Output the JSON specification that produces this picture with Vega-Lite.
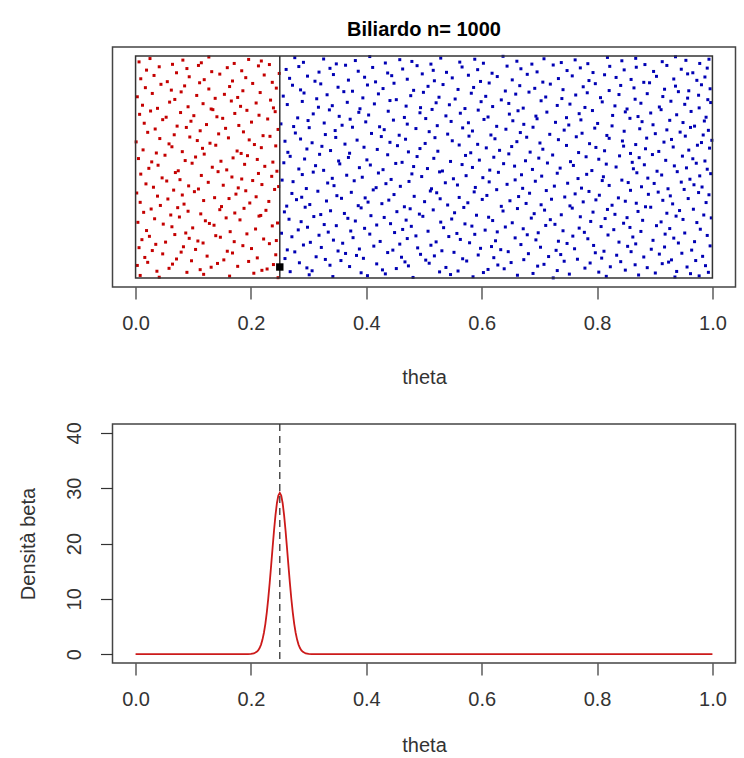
{
  "$schema": "https://vega.github.io/schema/vega-lite/v6.json",
  "background": "white",
  "padding": {"left": 17.5, "top": 19, "right": 0, "bottom": 0},
  "spacing": 32,
  "config": {
    "font": "Liberation Sans",
    "view": {"stroke": "#444444", "strokeWidth": 1.5},
    "axis": {"grid": false, "domain": false, "tickSize": 12, "tickColor": "#333333", "tickWidth": 1.2, "labelFont": "Liberation Sans", "labelFontSize": 20, "labelColor": "#333333", "titleFont": "Liberation Sans", "titleFontSize": 20, "titleFontWeight": "normal", "titleColor": "#333333", "labelFlush": false}
  },
  "vconcat": [
    {
      "width": 623,
      "height": 240,
      "title": {"text": "Biliardo n= 1000", "fontSize": 20, "fontWeight": "bold", "font": "Liberation Sans", "color": "#000000", "anchor": "middle", "frame": "group", "offset": 7},
      "layer": [
        {
          "data": {"values": [
{"x":0.008,"y":0.012},{"x":0.037,"y":0.031},{"x":0.041,"y":0.004},{"x":0.089,"y":0.026},{"x":0.112,"y":0.038},{"x":0.118,"y":0.017},{"x":0.163,"y":0.009},{"x":0.205,"y":0.022},{"x":0.219,"y":0.035},{"x":0.247,"y":0.002},{"x":0.268,"y":0.029},{"x":0.301,"y":0.015},{"x":0.306,"y":0.033},{"x":0.342,"y":0.007},{"x":0.391,"y":0.024},{"x":0.402,"y":0.011},{"x":0.428,"y":0.037},{"x":0.433,"y":0.019},{"x":0.481,"y":0.003},{"x":0.527,"y":0.028},{"x":0.546,"y":0.016},{"x":0.559,"y":0.032},{"x":0.585,"y":0.006},{"x":0.603,"y":0.025},{"x":0.611,"y":0.039},{"x":0.662,"y":0.013},{"x":0.689,"y":0.021},{"x":0.724,"y":0.001},{"x":0.731,"y":0.034},{"x":0.752,"y":0.018},{"x":0.803,"y":0.027},{"x":0.816,"y":0.008},{"x":0.849,"y":0.036},{"x":0.872,"y":0.014},{"x":0.901,"y":0.023},{"x":0.935,"y":0.005},{"x":0.938,"y":0.030},{"x":0.962,"y":0.020},{"x":0.977,"y":0.010},{"x":0.993,"y":0.026},
{"x":0.003,"y":0.057},{"x":0.021,"y":0.071},{"x":0.058,"y":0.044},{"x":0.064,"y":0.063},{"x":0.097,"y":0.078},{"x":0.131,"y":0.049},{"x":0.142,"y":0.066},{"x":0.177,"y":0.053},{"x":0.196,"y":0.075},{"x":0.228,"y":0.041},{"x":0.239,"y":0.061},{"x":0.284,"y":0.069},{"x":0.297,"y":0.046},{"x":0.337,"y":0.058},{"x":0.356,"y":0.079},{"x":0.371,"y":0.052},{"x":0.418,"y":0.064},{"x":0.452,"y":0.043},{"x":0.467,"y":0.073},{"x":0.473,"y":0.055},{"x":0.509,"y":0.067},{"x":0.538,"y":0.048},{"x":0.574,"y":0.077},{"x":0.628,"y":0.059},{"x":0.639,"y":0.042},{"x":0.651,"y":0.070},{"x":0.697,"y":0.054},{"x":0.708,"y":0.062},{"x":0.743,"y":0.076},{"x":0.779,"y":0.045},{"x":0.788,"y":0.068},{"x":0.823,"y":0.051},{"x":0.841,"y":0.074},{"x":0.866,"y":0.060},{"x":0.887,"y":0.047},{"x":0.913,"y":0.065},{"x":0.924,"y":0.072},{"x":0.956,"y":0.050},{"x":0.971,"y":0.079},{"x":0.988,"y":0.056},
{"x":0.016,"y":0.093},{"x":0.047,"y":0.109},{"x":0.071,"y":0.086},{"x":0.079,"y":0.117},{"x":0.124,"y":0.099},{"x":0.153,"y":0.082},{"x":0.168,"y":0.113},{"x":0.211,"y":0.091},{"x":0.243,"y":0.105},{"x":0.259,"y":0.088},{"x":0.276,"y":0.118},{"x":0.313,"y":0.096},{"x":0.329,"y":0.084},{"x":0.364,"y":0.111},{"x":0.383,"y":0.102},{"x":0.395,"y":0.089},{"x":0.437,"y":0.115},{"x":0.461,"y":0.094},{"x":0.494,"y":0.107},{"x":0.503,"y":0.081},{"x":0.518,"y":0.100},{"x":0.552,"y":0.116},{"x":0.567,"y":0.087},{"x":0.594,"y":0.104},{"x":0.621,"y":0.092},{"x":0.646,"y":0.119},{"x":0.673,"y":0.083},{"x":0.681,"y":0.110},{"x":0.716,"y":0.097},{"x":0.737,"y":0.106},{"x":0.766,"y":0.085},{"x":0.797,"y":0.114},{"x":0.808,"y":0.090},{"x":0.834,"y":0.103},{"x":0.859,"y":0.119},{"x":0.881,"y":0.095},{"x":0.908,"y":0.108},{"x":0.929,"y":0.082},{"x":0.947,"y":0.112},{"x":0.983,"y":0.098},
{"x":0.006,"y":0.137},{"x":0.029,"y":0.124},{"x":0.035,"y":0.152},{"x":0.083,"y":0.141},{"x":0.104,"y":0.129},{"x":0.117,"y":0.158},{"x":0.159,"y":0.121},{"x":0.186,"y":0.146},{"x":0.201,"y":0.133},{"x":0.232,"y":0.155},{"x":0.263,"y":0.127},{"x":0.291,"y":0.149},{"x":0.322,"y":0.138},{"x":0.351,"y":0.122},{"x":0.359,"y":0.157},{"x":0.388,"y":0.131},{"x":0.413,"y":0.144},{"x":0.446,"y":0.126},{"x":0.458,"y":0.153},{"x":0.489,"y":0.136},{"x":0.512,"y":0.148},{"x":0.531,"y":0.123},{"x":0.579,"y":0.159},{"x":0.598,"y":0.134},{"x":0.617,"y":0.142},{"x":0.633,"y":0.128},{"x":0.668,"y":0.151},{"x":0.702,"y":0.139},{"x":0.729,"y":0.125},{"x":0.748,"y":0.156},{"x":0.761,"y":0.132},{"x":0.794,"y":0.147},{"x":0.812,"y":0.121},{"x":0.853,"y":0.143},{"x":0.867,"y":0.154},{"x":0.894,"y":0.130},{"x":0.917,"y":0.140},{"x":0.941,"y":0.158},{"x":0.964,"y":0.126},{"x":0.996,"y":0.145},
{"x":0.011,"y":0.173},{"x":0.024,"y":0.188},{"x":0.052,"y":0.162},{"x":0.068,"y":0.196},{"x":0.093,"y":0.179},{"x":0.108,"y":0.167},{"x":0.139,"y":0.191},{"x":0.147,"y":0.184},{"x":0.171,"y":0.164},{"x":0.193,"y":0.199},{"x":0.222,"y":0.176},{"x":0.244,"y":0.169},{"x":0.271,"y":0.186},{"x":0.303,"y":0.161},{"x":0.318,"y":0.193},{"x":0.343,"y":0.171},{"x":0.377,"y":0.182},{"x":0.406,"y":0.198},{"x":0.424,"y":0.165},{"x":0.471,"y":0.178},{"x":0.486,"y":0.190},{"x":0.521,"y":0.163},{"x":0.543,"y":0.187},{"x":0.563,"y":0.174},{"x":0.588,"y":0.197},{"x":0.624,"y":0.168},{"x":0.658,"y":0.181},{"x":0.679,"y":0.195},{"x":0.694,"y":0.172},{"x":0.733,"y":0.166},{"x":0.758,"y":0.189},{"x":0.784,"y":0.177},{"x":0.819,"y":0.194},{"x":0.838,"y":0.162},{"x":0.862,"y":0.185},{"x":0.897,"y":0.170},{"x":0.918,"y":0.198},{"x":0.933,"y":0.180},{"x":0.969,"y":0.164},{"x":0.991,"y":0.192},
{"x":0.019,"y":0.214},{"x":0.063,"y":0.231},{"x":0.087,"y":0.203},{"x":0.099,"y":0.226},{"x":0.136,"y":0.238},{"x":0.164,"y":0.209},{"x":0.208,"y":0.221},{"x":0.237,"y":0.235},{"x":0.253,"y":0.202},{"x":0.282,"y":0.217},{"x":0.298,"y":0.229},{"x":0.334,"y":0.207},{"x":0.348,"y":0.236},{"x":0.373,"y":0.212},{"x":0.397,"y":0.224},{"x":0.418,"y":0.239},{"x":0.449,"y":0.205},{"x":0.463,"y":0.219},{"x":0.478,"y":0.233},{"x":0.507,"y":0.211},{"x":0.534,"y":0.227},{"x":0.557,"y":0.201},{"x":0.583,"y":0.234},{"x":0.606,"y":0.216},{"x":0.627,"y":0.208},{"x":0.641,"y":0.230},{"x":0.672,"y":0.222},{"x":0.698,"y":0.204},{"x":0.711,"y":0.237},{"x":0.741,"y":0.213},{"x":0.769,"y":0.225},{"x":0.778,"y":0.206},{"x":0.807,"y":0.232},{"x":0.829,"y":0.218},{"x":0.857,"y":0.228},{"x":0.876,"y":0.210},{"x":0.903,"y":0.236},{"x":0.926,"y":0.223},{"x":0.952,"y":0.203},{"x":0.979,"y":0.220},
{"x":0.004,"y":0.251},{"x":0.033,"y":0.267},{"x":0.048,"y":0.243},{"x":0.076,"y":0.275},{"x":0.121,"y":0.258},{"x":0.128,"y":0.246},{"x":0.157,"y":0.271},{"x":0.181,"y":0.262},{"x":0.214,"y":0.279},{"x":0.246,"y":0.248},{"x":0.266,"y":0.265},{"x":0.287,"y":0.254},{"x":0.309,"y":0.277},{"x":0.327,"y":0.241},{"x":0.368,"y":0.269},{"x":0.381,"y":0.257},{"x":0.431,"y":0.273},{"x":0.442,"y":0.245},{"x":0.469,"y":0.261},{"x":0.498,"y":0.278},{"x":0.529,"y":0.252},{"x":0.548,"y":0.266},{"x":0.571,"y":0.244},{"x":0.612,"y":0.274},{"x":0.619,"y":0.259},{"x":0.653,"y":0.249},{"x":0.686,"y":0.270},{"x":0.719,"y":0.263},{"x":0.727,"y":0.242},{"x":0.771,"y":0.276},{"x":0.789,"y":0.255},{"x":0.814,"y":0.268},{"x":0.846,"y":0.247},{"x":0.852,"y":0.272},{"x":0.879,"y":0.260},{"x":0.911,"y":0.253},{"x":0.937,"y":0.279},{"x":0.949,"y":0.264},{"x":0.973,"y":0.250},{"x":0.998,"y":0.271},
{"x":0.014,"y":0.296},{"x":0.027,"y":0.311},{"x":0.061,"y":0.284},{"x":0.073,"y":0.317},{"x":0.091,"y":0.301},{"x":0.113,"y":0.289},{"x":0.146,"y":0.308},{"x":0.172,"y":0.293},{"x":0.188,"y":0.314},{"x":0.217,"y":0.282},{"x":0.226,"y":0.305},{"x":0.258,"y":0.298},{"x":0.294,"y":0.319},{"x":0.321,"y":0.286},{"x":0.338,"y":0.303},{"x":0.362,"y":0.291},{"x":0.391,"y":0.316},{"x":0.408,"y":0.281},{"x":0.453,"y":0.299},{"x":0.476,"y":0.312},{"x":0.492,"y":0.288},{"x":0.516,"y":0.307},{"x":0.553,"y":0.294},{"x":0.569,"y":0.318},{"x":0.591,"y":0.283},{"x":0.637,"y":0.302},{"x":0.662,"y":0.313},{"x":0.691,"y":0.290},{"x":0.709,"y":0.306},{"x":0.738,"y":0.285},{"x":0.757,"y":0.315},{"x":0.793,"y":0.297},{"x":0.818,"y":0.309},{"x":0.831,"y":0.287},{"x":0.871,"y":0.300},{"x":0.893,"y":0.319},{"x":0.921,"y":0.292},{"x":0.943,"y":0.304},{"x":0.967,"y":0.310},{"x":0.985,"y":0.284},
{"x":0.008,"y":0.341},{"x":0.043,"y":0.327},{"x":0.056,"y":0.356},{"x":0.084,"y":0.333},{"x":0.118,"y":0.349},{"x":0.149,"y":0.322},{"x":0.162,"y":0.358},{"x":0.198,"y":0.338},{"x":0.231,"y":0.345},{"x":0.262,"y":0.324},{"x":0.279,"y":0.353},{"x":0.302,"y":0.331},{"x":0.331,"y":0.347},{"x":0.357,"y":0.359},{"x":0.386,"y":0.326},{"x":0.403,"y":0.342},{"x":0.427,"y":0.335},{"x":0.439,"y":0.351},{"x":0.466,"y":0.321},{"x":0.501,"y":0.344},{"x":0.528,"y":0.357},{"x":0.541,"y":0.329},{"x":0.576,"y":0.339},{"x":0.601,"y":0.354},{"x":0.634,"y":0.323},{"x":0.649,"y":0.348},{"x":0.677,"y":0.336},{"x":0.703,"y":0.330},{"x":0.721,"y":0.355},{"x":0.753,"y":0.325},{"x":0.776,"y":0.343},{"x":0.798,"y":0.352},{"x":0.826,"y":0.328},{"x":0.849,"y":0.346},{"x":0.868,"y":0.337},{"x":0.884,"y":0.321},{"x":0.914,"y":0.350},{"x":0.931,"y":0.334},{"x":0.958,"y":0.358},{"x":0.989,"y":0.340},
{"x":0.002,"y":0.383},{"x":0.038,"y":0.369},{"x":0.066,"y":0.396},{"x":0.081,"y":0.374},{"x":0.102,"y":0.389},{"x":0.137,"y":0.362},{"x":0.174,"y":0.378},{"x":0.191,"y":0.393},{"x":0.209,"y":0.366},{"x":0.241,"y":0.399},{"x":0.271,"y":0.381},{"x":0.288,"y":0.364},{"x":0.316,"y":0.391},{"x":0.349,"y":0.371},{"x":0.374,"y":0.386},{"x":0.398,"y":0.361},{"x":0.412,"y":0.397},{"x":0.448,"y":0.376},{"x":0.483,"y":0.368},{"x":0.511,"y":0.392},{"x":0.522,"y":0.384},{"x":0.561,"y":0.363},{"x":0.587,"y":0.388},{"x":0.609,"y":0.372},{"x":0.626,"y":0.398},{"x":0.664,"y":0.367},{"x":0.683,"y":0.382},{"x":0.712,"y":0.394},{"x":0.744,"y":0.365},{"x":0.762,"y":0.379},{"x":0.786,"y":0.390},{"x":0.804,"y":0.373},{"x":0.837,"y":0.361},{"x":0.858,"y":0.395},{"x":0.889,"y":0.377},{"x":0.906,"y":0.387},{"x":0.927,"y":0.370},{"x":0.951,"y":0.399},{"x":0.976,"y":0.385},{"x":0.994,"y":0.375},
{"x":0.018,"y":0.424},{"x":0.031,"y":0.409},{"x":0.054,"y":0.437},{"x":0.092,"y":0.415},{"x":0.109,"y":0.401},{"x":0.126,"y":0.431},{"x":0.152,"y":0.418},{"x":0.178,"y":0.406},{"x":0.203,"y":0.439},{"x":0.219,"y":0.421},{"x":0.248,"y":0.412},{"x":0.273,"y":0.434},{"x":0.296,"y":0.403},{"x":0.333,"y":0.428},{"x":0.344,"y":0.416},{"x":0.379,"y":0.438},{"x":0.417,"y":0.407},{"x":0.434,"y":0.425},{"x":0.459,"y":0.413},{"x":0.474,"y":0.435},{"x":0.513,"y":0.402},{"x":0.537,"y":0.429},{"x":0.558,"y":0.419},{"x":0.589,"y":0.408},{"x":0.613,"y":0.433},{"x":0.644,"y":0.422},{"x":0.671,"y":0.404},{"x":0.693,"y":0.436},{"x":0.726,"y":0.414},{"x":0.749,"y":0.427},{"x":0.773,"y":0.405},{"x":0.809,"y":0.439},{"x":0.821,"y":0.417},{"x":0.854,"y":0.430},{"x":0.877,"y":0.411},{"x":0.899,"y":0.426},{"x":0.923,"y":0.402},{"x":0.946,"y":0.432},{"x":0.968,"y":0.420},{"x":0.982,"y":0.410},
{"x":0.009,"y":0.468},{"x":0.046,"y":0.451},{"x":0.069,"y":0.475},{"x":0.077,"y":0.443},{"x":0.114,"y":0.462},{"x":0.143,"y":0.479},{"x":0.167,"y":0.455},{"x":0.184,"y":0.446},{"x":0.213,"y":0.471},{"x":0.236,"y":0.458},{"x":0.254,"y":0.441},{"x":0.289,"y":0.466},{"x":0.308,"y":0.477},{"x":0.341,"y":0.449},{"x":0.366,"y":0.463},{"x":0.393,"y":0.454},{"x":0.421,"y":0.473},{"x":0.443,"y":0.444},{"x":0.479,"y":0.469},{"x":0.496,"y":0.457},{"x":0.527,"y":0.478},{"x":0.551,"y":0.447},{"x":0.573,"y":0.461},{"x":0.602,"y":0.452},{"x":0.629,"y":0.476},{"x":0.658,"y":0.442},{"x":0.669,"y":0.465},{"x":0.704,"y":0.459},{"x":0.731,"y":0.472},{"x":0.767,"y":0.448},{"x":0.782,"y":0.467},{"x":0.811,"y":0.456},{"x":0.843,"y":0.441},{"x":0.869,"y":0.474},{"x":0.888,"y":0.450},{"x":0.912,"y":0.464},{"x":0.939,"y":0.479},{"x":0.961,"y":0.445},{"x":0.978,"y":0.460},{"x":0.997,"y":0.470},
{"x":0.023,"y":0.494},{"x":0.039,"y":0.508},{"x":0.074,"y":0.483},{"x":0.098,"y":0.517},{"x":0.133,"y":0.499},{"x":0.158,"y":0.487},{"x":0.189,"y":0.512},{"x":0.224,"y":0.503},{"x":0.245,"y":0.481},{"x":0.257,"y":0.519},{"x":0.283,"y":0.491},{"x":0.312,"y":0.506},{"x":0.326,"y":0.485},{"x":0.354,"y":0.514},{"x":0.388,"y":0.497},{"x":0.407,"y":0.509},{"x":0.429,"y":0.488},{"x":0.451,"y":0.516},{"x":0.482,"y":0.502},{"x":0.506,"y":0.493},{"x":0.532,"y":0.482},{"x":0.566,"y":0.511},{"x":0.584,"y":0.498},{"x":0.614,"y":0.486},{"x":0.638,"y":0.515},{"x":0.657,"y":0.504},{"x":0.688,"y":0.489},{"x":0.714,"y":0.518},{"x":0.736,"y":0.495},{"x":0.759,"y":0.507},{"x":0.791,"y":0.484},{"x":0.816,"y":0.513},{"x":0.833,"y":0.500},{"x":0.863,"y":0.492},{"x":0.882,"y":0.510},{"x":0.904,"y":0.481},{"x":0.934,"y":0.505},{"x":0.955,"y":0.496},{"x":0.972,"y":0.517},{"x":0.991,"y":0.490},
{"x":0.005,"y":0.538},{"x":0.028,"y":0.523},{"x":0.051,"y":0.553},{"x":0.086,"y":0.529},{"x":0.104,"y":0.545},{"x":0.119,"y":0.558},{"x":0.148,"y":0.526},{"x":0.169,"y":0.541},{"x":0.194,"y":0.551},{"x":0.211,"y":0.534},{"x":0.238,"y":0.522},{"x":0.268,"y":0.548},{"x":0.293,"y":0.536},{"x":0.319,"y":0.557},{"x":0.352,"y":0.527},{"x":0.369,"y":0.543},{"x":0.401,"y":0.532},{"x":0.437,"y":0.555},{"x":0.462,"y":0.521},{"x":0.488,"y":0.547},{"x":0.517,"y":0.539},{"x":0.546,"y":0.525},{"x":0.572,"y":0.552},{"x":0.596,"y":0.531},{"x":0.621,"y":0.544},{"x":0.647,"y":0.559},{"x":0.676,"y":0.528},{"x":0.699,"y":0.540},{"x":0.723,"y":0.554},{"x":0.754,"y":0.524},{"x":0.781,"y":0.546},{"x":0.803,"y":0.535},{"x":0.839,"y":0.550},{"x":0.861,"y":0.521},{"x":0.873,"y":0.542},{"x":0.896,"y":0.556},{"x":0.919,"y":0.530},{"x":0.948,"y":0.549},{"x":0.966,"y":0.537},{"x":0.987,"y":0.527},
{"x":0.013,"y":0.577},{"x":0.036,"y":0.563},{"x":0.063,"y":0.591},{"x":0.081,"y":0.569},{"x":0.116,"y":0.584},{"x":0.139,"y":0.598},{"x":0.176,"y":0.572},{"x":0.183,"y":0.561},{"x":0.218,"y":0.587},{"x":0.243,"y":0.595},{"x":0.264,"y":0.566},{"x":0.297,"y":0.581},{"x":0.323,"y":0.593},{"x":0.338,"y":0.574},{"x":0.371,"y":0.562},{"x":0.396,"y":0.589},{"x":0.419,"y":0.579},{"x":0.454,"y":0.596},{"x":0.473,"y":0.568},{"x":0.493,"y":0.583},{"x":0.524,"y":0.571},{"x":0.561,"y":0.599},{"x":0.581,"y":0.564},{"x":0.608,"y":0.586},{"x":0.631,"y":0.575},{"x":0.652,"y":0.592},{"x":0.684,"y":0.567},{"x":0.706,"y":0.580},{"x":0.747,"y":0.597},{"x":0.768,"y":0.565},{"x":0.798,"y":0.588},{"x":0.813,"y":0.573},{"x":0.846,"y":0.594},{"x":0.858,"y":0.561},{"x":0.884,"y":0.582},{"x":0.907,"y":0.570},{"x":0.932,"y":0.590},{"x":0.959,"y":0.576},{"x":0.974,"y":0.598},{"x":0.995,"y":0.585},
{"x":0.001,"y":0.613},{"x":0.042,"y":0.628},{"x":0.058,"y":0.604},{"x":0.094,"y":0.635},{"x":0.107,"y":0.619},{"x":0.129,"y":0.607},{"x":0.161,"y":0.631},{"x":0.197,"y":0.622},{"x":0.206,"y":0.601},{"x":0.233,"y":0.638},{"x":0.259,"y":0.616},{"x":0.286,"y":0.626},{"x":0.306,"y":0.609},{"x":0.347,"y":0.633},{"x":0.363,"y":0.603},{"x":0.384,"y":0.621},{"x":0.426,"y":0.637},{"x":0.441,"y":0.611},{"x":0.468,"y":0.625},{"x":0.502,"y":0.606},{"x":0.519,"y":0.632},{"x":0.549,"y":0.618},{"x":0.578,"y":0.639},{"x":0.593,"y":0.602},{"x":0.623,"y":0.627},{"x":0.661,"y":0.614},{"x":0.678,"y":0.634},{"x":0.701,"y":0.608},{"x":0.733,"y":0.623},{"x":0.764,"y":0.636},{"x":0.787,"y":0.605},{"x":0.821,"y":0.629},{"x":0.844,"y":0.617},{"x":0.867,"y":0.601},{"x":0.886,"y":0.630},{"x":0.916,"y":0.612},{"x":0.929,"y":0.624},{"x":0.953,"y":0.639},{"x":0.981,"y":0.610},{"x":0.999,"y":0.620},
{"x":0.021,"y":0.656},{"x":0.034,"y":0.671},{"x":0.067,"y":0.645},{"x":0.088,"y":0.678},{"x":0.112,"y":0.663},{"x":0.144,"y":0.649},{"x":0.156,"y":0.674},{"x":0.187,"y":0.658},{"x":0.221,"y":0.641},{"x":0.247,"y":0.669},{"x":0.277,"y":0.653},{"x":0.301,"y":0.677},{"x":0.329,"y":0.646},{"x":0.346,"y":0.664},{"x":0.376,"y":0.679},{"x":0.409,"y":0.651},{"x":0.431,"y":0.668},{"x":0.457,"y":0.643},{"x":0.486,"y":0.673},{"x":0.509,"y":0.659},{"x":0.541,"y":0.648},{"x":0.567,"y":0.676},{"x":0.584,"y":0.662},{"x":0.616,"y":0.644},{"x":0.642,"y":0.670},{"x":0.667,"y":0.655},{"x":0.689,"y":0.679},{"x":0.718,"y":0.647},{"x":0.743,"y":0.666},{"x":0.774,"y":0.652},{"x":0.796,"y":0.675},{"x":0.817,"y":0.642},{"x":0.847,"y":0.661},{"x":0.874,"y":0.672},{"x":0.901,"y":0.650},{"x":0.921,"y":0.667},{"x":0.944,"y":0.657},{"x":0.962,"y":0.678},{"x":0.984,"y":0.644},{"x":0.993,"y":0.665},
{"x":0.015,"y":0.697},{"x":0.047,"y":0.713},{"x":0.072,"y":0.684},{"x":0.096,"y":0.706},{"x":0.123,"y":0.691},{"x":0.151,"y":0.719},{"x":0.179,"y":0.687},{"x":0.201,"y":0.702},{"x":0.229,"y":0.716},{"x":0.252,"y":0.694},{"x":0.274,"y":0.682},{"x":0.299,"y":0.709},{"x":0.327,"y":0.698},{"x":0.358,"y":0.688},{"x":0.372,"y":0.715},{"x":0.399,"y":0.703},{"x":0.423,"y":0.681},{"x":0.447,"y":0.711},{"x":0.471,"y":0.693},{"x":0.503,"y":0.718},{"x":0.523,"y":0.686},{"x":0.547,"y":0.705},{"x":0.577,"y":0.699},{"x":0.604,"y":0.714},{"x":0.626,"y":0.683},{"x":0.654,"y":0.708},{"x":0.673,"y":0.692},{"x":0.696,"y":0.717},{"x":0.728,"y":0.701},{"x":0.751,"y":0.689},{"x":0.772,"y":0.712},{"x":0.801,"y":0.696},{"x":0.826,"y":0.685},{"x":0.857,"y":0.719},{"x":0.878,"y":0.704},{"x":0.897,"y":0.690},{"x":0.926,"y":0.710},{"x":0.949,"y":0.700},{"x":0.969,"y":0.684},{"x":0.986,"y":0.707},
{"x":0.007,"y":0.737},{"x":0.026,"y":0.752},{"x":0.053,"y":0.724},{"x":0.078,"y":0.745},{"x":0.101,"y":0.731},{"x":0.134,"y":0.758},{"x":0.141,"y":0.726},{"x":0.172,"y":0.741},{"x":0.193,"y":0.755},{"x":0.214,"y":0.733},{"x":0.242,"y":0.749},{"x":0.281,"y":0.721},{"x":0.308,"y":0.739},{"x":0.336,"y":0.757},{"x":0.353,"y":0.728},{"x":0.387,"y":0.746},{"x":0.404,"y":0.734},{"x":0.438,"y":0.751},{"x":0.466,"y":0.723},{"x":0.493,"y":0.744},{"x":0.514,"y":0.759},{"x":0.538,"y":0.730},{"x":0.563,"y":0.742},{"x":0.594,"y":0.756},{"x":0.611,"y":0.725},{"x":0.648,"y":0.738},{"x":0.663,"y":0.753},{"x":0.694,"y":0.729},{"x":0.713,"y":0.747},{"x":0.747,"y":0.722},{"x":0.769,"y":0.740},{"x":0.792,"y":0.754},{"x":0.827,"y":0.732},{"x":0.849,"y":0.748},{"x":0.871,"y":0.727},{"x":0.893,"y":0.743},{"x":0.911,"y":0.758},{"x":0.938,"y":0.735},{"x":0.963,"y":0.750},{"x":0.989,"y":0.724},
{"x":0.012,"y":0.778},{"x":0.038,"y":0.764},{"x":0.059,"y":0.792},{"x":0.091,"y":0.771},{"x":0.117,"y":0.785},{"x":0.131,"y":0.761},{"x":0.166,"y":0.797},{"x":0.182,"y":0.773},{"x":0.209,"y":0.788},{"x":0.239,"y":0.766},{"x":0.263,"y":0.781},{"x":0.289,"y":0.795},{"x":0.317,"y":0.769},{"x":0.341,"y":0.776},{"x":0.367,"y":0.791},{"x":0.389,"y":0.762},{"x":0.414,"y":0.784},{"x":0.441,"y":0.799},{"x":0.469,"y":0.774},{"x":0.494,"y":0.767},{"x":0.521,"y":0.789},{"x":0.544,"y":0.780},{"x":0.571,"y":0.763},{"x":0.599,"y":0.794},{"x":0.619,"y":0.772},{"x":0.647,"y":0.786},{"x":0.672,"y":0.765},{"x":0.703,"y":0.798},{"x":0.731,"y":0.777},{"x":0.753,"y":0.783},{"x":0.779,"y":0.768},{"x":0.809,"y":0.793},{"x":0.831,"y":0.775},{"x":0.852,"y":0.761},{"x":0.876,"y":0.787},{"x":0.908,"y":0.770},{"x":0.928,"y":0.796},{"x":0.952,"y":0.782},{"x":0.977,"y":0.766},{"x":0.997,"y":0.790},
{"x":0.003,"y":0.816},{"x":0.029,"y":0.831},{"x":0.068,"y":0.804},{"x":0.079,"y":0.838},{"x":0.106,"y":0.822},{"x":0.138,"y":0.809},{"x":0.154,"y":0.827},{"x":0.177,"y":0.813},{"x":0.216,"y":0.835},{"x":0.234,"y":0.801},{"x":0.256,"y":0.819},{"x":0.292,"y":0.833},{"x":0.314,"y":0.807},{"x":0.332,"y":0.825},{"x":0.361,"y":0.839},{"x":0.394,"y":0.811},{"x":0.421,"y":0.829},{"x":0.452,"y":0.803},{"x":0.477,"y":0.821},{"x":0.499,"y":0.836},{"x":0.526,"y":0.814},{"x":0.554,"y":0.806},{"x":0.582,"y":0.832},{"x":0.607,"y":0.818},{"x":0.634,"y":0.802},{"x":0.659,"y":0.828},{"x":0.682,"y":0.837},{"x":0.711,"y":0.815},{"x":0.739,"y":0.808},{"x":0.763,"y":0.824},{"x":0.783,"y":0.834},{"x":0.806,"y":0.812},{"x":0.838,"y":0.826},{"x":0.866,"y":0.805},{"x":0.887,"y":0.830},{"x":0.914,"y":0.817},{"x":0.941,"y":0.839},{"x":0.957,"y":0.810},{"x":0.976,"y":0.823},{"x":0.992,"y":0.803},
{"x":0.017,"y":0.857},{"x":0.044,"y":0.872},{"x":0.062,"y":0.846},{"x":0.085,"y":0.865},{"x":0.111,"y":0.879},{"x":0.127,"y":0.851},{"x":0.163,"y":0.862},{"x":0.186,"y":0.843},{"x":0.203,"y":0.876},{"x":0.244,"y":0.855},{"x":0.272,"y":0.868},{"x":0.286,"y":0.847},{"x":0.321,"y":0.874},{"x":0.351,"y":0.859},{"x":0.376,"y":0.841},{"x":0.402,"y":0.869},{"x":0.429,"y":0.853},{"x":0.448,"y":0.877},{"x":0.482,"y":0.845},{"x":0.507,"y":0.863},{"x":0.533,"y":0.871},{"x":0.559,"y":0.849},{"x":0.586,"y":0.858},{"x":0.613,"y":0.878},{"x":0.641,"y":0.842},{"x":0.666,"y":0.866},{"x":0.692,"y":0.854},{"x":0.719,"y":0.873},{"x":0.741,"y":0.848},{"x":0.776,"y":0.861},{"x":0.797,"y":0.875},{"x":0.821,"y":0.844},{"x":0.841,"y":0.867},{"x":0.864,"y":0.856},{"x":0.891,"y":0.879},{"x":0.917,"y":0.850},{"x":0.936,"y":0.864},{"x":0.959,"y":0.843},{"x":0.981,"y":0.870},{"x":0.996,"y":0.852},
{"x":0.009,"y":0.897},{"x":0.032,"y":0.912},{"x":0.055,"y":0.884},{"x":0.093,"y":0.906},{"x":0.119,"y":0.893},{"x":0.146,"y":0.918},{"x":0.168,"y":0.887},{"x":0.191,"y":0.902},{"x":0.223,"y":0.914},{"x":0.237,"y":0.881},{"x":0.267,"y":0.899},{"x":0.298,"y":0.909},{"x":0.311,"y":0.886},{"x":0.343,"y":0.916},{"x":0.369,"y":0.891},{"x":0.397,"y":0.904},{"x":0.416,"y":0.883},{"x":0.444,"y":0.911},{"x":0.471,"y":0.895},{"x":0.497,"y":0.919},{"x":0.518,"y":0.888},{"x":0.549,"y":0.901},{"x":0.577,"y":0.913},{"x":0.598,"y":0.885},{"x":0.627,"y":0.907},{"x":0.653,"y":0.892},{"x":0.679,"y":0.917},{"x":0.706,"y":0.882},{"x":0.733,"y":0.898},{"x":0.757,"y":0.910},{"x":0.786,"y":0.889},{"x":0.813,"y":0.915},{"x":0.833,"y":0.903},{"x":0.859,"y":0.894},{"x":0.881,"y":0.881},{"x":0.903,"y":0.908},{"x":0.933,"y":0.896},{"x":0.957,"y":0.919},{"x":0.973,"y":0.890},{"x":0.987,"y":0.905},
{"x":0.019,"y":0.936},{"x":0.041,"y":0.951},{"x":0.071,"y":0.924},{"x":0.089,"y":0.943},{"x":0.109,"y":0.957},{"x":0.132,"y":0.929},{"x":0.159,"y":0.947},{"x":0.184,"y":0.933},{"x":0.213,"y":0.955},{"x":0.249,"y":0.921},{"x":0.261,"y":0.939},{"x":0.283,"y":0.952},{"x":0.318,"y":0.927},{"x":0.337,"y":0.944},{"x":0.364,"y":0.958},{"x":0.386,"y":0.931},{"x":0.411,"y":0.948},{"x":0.437,"y":0.923},{"x":0.463,"y":0.941},{"x":0.488,"y":0.956},{"x":0.516,"y":0.935},{"x":0.539,"y":0.926},{"x":0.566,"y":0.950},{"x":0.593,"y":0.938},{"x":0.618,"y":0.922},{"x":0.644,"y":0.954},{"x":0.668,"y":0.942},{"x":0.696,"y":0.928},{"x":0.724,"y":0.959},{"x":0.748,"y":0.934},{"x":0.771,"y":0.946},{"x":0.793,"y":0.925},{"x":0.822,"y":0.953},{"x":0.847,"y":0.937},{"x":0.868,"y":0.949},{"x":0.898,"y":0.930},{"x":0.921,"y":0.957},{"x":0.946,"y":0.940},{"x":0.966,"y":0.924},{"x":0.991,"y":0.945},
{"x":0.006,"y":0.973},{"x":0.025,"y":0.988},{"x":0.064,"y":0.962},{"x":0.082,"y":0.981},{"x":0.114,"y":0.969},{"x":0.127,"y":0.995},{"x":0.171,"y":0.966},{"x":0.196,"y":0.984},{"x":0.218,"y":0.977},{"x":0.232,"y":0.961},{"x":0.276,"y":0.992},{"x":0.291,"y":0.971},{"x":0.326,"y":0.986},{"x":0.348,"y":0.964},{"x":0.381,"y":0.979},{"x":0.406,"y":0.997},{"x":0.433,"y":0.968},{"x":0.458,"y":0.983},{"x":0.479,"y":0.975},{"x":0.512,"y":0.963},{"x":0.529,"y":0.990},{"x":0.562,"y":0.972},{"x":0.588,"y":0.985},{"x":0.603,"y":0.967},{"x":0.637,"y":0.998},{"x":0.661,"y":0.976},{"x":0.687,"y":0.963},{"x":0.708,"y":0.987},{"x":0.738,"y":0.970},{"x":0.762,"y":0.982},{"x":0.784,"y":0.965},{"x":0.818,"y":0.993},{"x":0.843,"y":0.978},{"x":0.867,"y":0.989},{"x":0.883,"y":0.961},{"x":0.913,"y":0.974},{"x":0.936,"y":0.996},{"x":0.954,"y":0.980},{"x":0.978,"y":0.966},{"x":0.994,"y":0.985}
          ]},
          "mark": {"type": "square", "size": 9, "filled": true, "opacity": 1},
          "encoding": {
            "x": {"field": "x", "type": "quantitative", "scale": {"domain": [-0.04, 1.04], "nice": false, "zero": false}, "axis": {"values": [0, 0.2, 0.4, 0.6, 0.8, 1], "format": ".1f", "title": "theta", "labelPadding": 14, "titlePadding": 34}},
            "y": {"field": "y", "type": "quantitative", "scale": {"domain": [-0.04, 1.04], "nice": false, "zero": false}, "axis": null},
            "color": {"condition": {"test": "datum.x < 0.25", "value": "#c40000"}, "value": "#0000b4"}
          }
        },
        {
          "data": {"values": [{"x0": 0, "x1": 1, "y0": 0, "y1": 1}]},
          "mark": {"type": "rect", "filled": false, "stroke": "#333333", "strokeWidth": 1.5},
          "encoding": {
            "x": {"field": "x0", "type": "quantitative"},
            "x2": {"field": "x1"},
            "y": {"field": "y0", "type": "quantitative"},
            "y2": {"field": "y1"}
          }
        },
        {
          "data": {"values": [{"x": 0.25, "y0": 0, "y1": 1}]},
          "mark": {"type": "rule", "color": "#333333", "strokeWidth": 1.5},
          "encoding": {
            "x": {"field": "x", "type": "quantitative"},
            "y": {"field": "y0", "type": "quantitative"},
            "y2": {"field": "y1"}
          }
        },
        {
          "data": {"values": [{"x": 0.25, "y": 0.05}]},
          "mark": {"type": "square", "size": 55, "filled": true, "color": "#000000", "opacity": 1},
          "encoding": {
            "x": {"field": "x", "type": "quantitative"},
            "y": {"field": "y", "type": "quantitative"}
          }
        }
      ]
    },
    {
      "width": 623,
      "height": 239,
      "layer": [
        {
          "data": {"values": [
            {"theta":0,"dens":0},{"theta":0.1,"dens":0},{"theta":0.19,"dens":0.002},{"theta":0.195,"dens":0.009},{"theta":0.2,"dens":0.037},{"theta":0.205,"dens":0.13},{"theta":0.21,"dens":0.41},{"theta":0.2125,"dens":0.68},{"theta":0.215,"dens":1.1},{"theta":0.2175,"dens":1.73},{"theta":0.22,"dens":2.63},{"theta":0.2225,"dens":3.87},{"theta":0.225,"dens":5.49},{"theta":0.2275,"dens":7.54},{"theta":0.23,"dens":10.02},{"theta":0.2325,"dens":12.87},{"theta":0.235,"dens":15.99},{"theta":0.2375,"dens":19.21},{"theta":0.24,"dens":22.32},{"theta":0.2425,"dens":25.09},{"theta":0.245,"dens":27.28},{"theta":0.2475,"dens":28.68},{"theta":0.25,"dens":29.16},{"theta":0.2525,"dens":28.68},{"theta":0.255,"dens":27.28},{"theta":0.2575,"dens":25.09},{"theta":0.26,"dens":22.32},{"theta":0.2625,"dens":19.21},{"theta":0.265,"dens":15.99},{"theta":0.2675,"dens":12.87},{"theta":0.27,"dens":10.02},{"theta":0.2725,"dens":7.54},{"theta":0.275,"dens":5.49},{"theta":0.2775,"dens":3.87},{"theta":0.28,"dens":2.63},{"theta":0.2825,"dens":1.73},{"theta":0.285,"dens":1.1},{"theta":0.2875,"dens":0.68},{"theta":0.29,"dens":0.41},{"theta":0.295,"dens":0.13},{"theta":0.3,"dens":0.037},{"theta":0.305,"dens":0.009},{"theta":0.31,"dens":0.002},{"theta":0.4,"dens":0},{"theta":0.6,"dens":0},{"theta":0.8,"dens":0},{"theta":1,"dens":0}
          ]},
          "mark": {"type": "line", "color": "#cc1a1a", "strokeWidth": 1.8},
          "encoding": {
            "x": {"field": "theta", "type": "quantitative", "scale": {"domain": [-0.04, 1.04], "nice": false, "zero": false}, "axis": {"values": [0, 0.2, 0.4, 0.6, 0.8, 1], "format": ".1f", "title": "theta", "labelPadding": 14, "titlePadding": 26}},
            "y": {"field": "dens", "type": "quantitative", "scale": {"domain": [-1.6, 41.6], "nice": false, "zero": false}, "axis": {"values": [0, 10, 20, 30, 40], "title": "Densità beta", "labelAngle": -90, "labelAlign": "center", "labelBaseline": "bottom", "labelPadding": 16, "titlePadding": 26}}
          }
        },
        {
          "data": {"values": [{"v": 0.25}]},
          "mark": {"type": "rule", "color": "#333333", "strokeWidth": 1.3, "strokeDash": [7, 5]},
          "encoding": {
            "x": {"field": "v", "type": "quantitative"}
          }
        }
      ]
    }
  ]
}
